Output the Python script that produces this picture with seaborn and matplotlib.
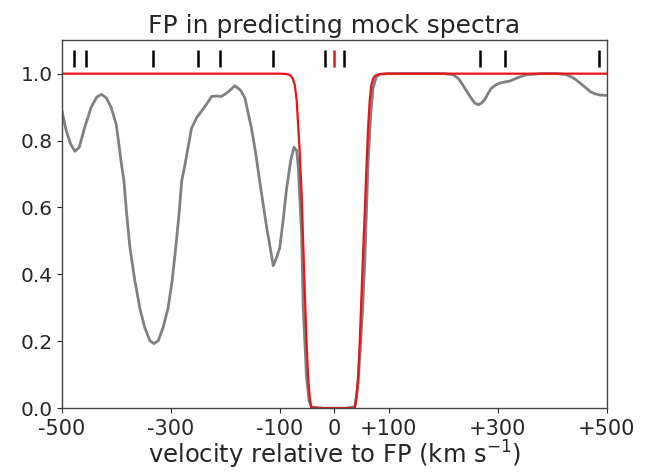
import matplotlib
matplotlib.use("Agg")
import matplotlib.pyplot as plt
import seaborn as sns
import pandas as pd

spec_v = [-500, -492, -484, -476, -468, -458, -446, -436, -427, -418, -409, -400, -390.5,
          -386, -381, -375, -366, -357, -348, -338.5, -331, -323, -314, -305, -297.6, -291,
          -285, -280, -274, -262, -252, -244, -234, -225, -216, -207, -195, -182.6, -172,
          -164, -152, -144, -137, -124, -112, -106, -100, -94, -88, -80, -74, -69, -66, -60,
          -57, -51, -46, -42, -20, 0, 20, 37.6, 43, 47, 52, 56, 62, 67, 71, 77, 83.5, 100,
          150, 200, 218, 228, 236, 244, 252, 258, 264, 270, 276, 282, 288, 296, 304, 322,
          340, 353, 380, 410, 426, 436, 444, 454, 463, 470, 478, 488, 500]
spec_f = [0.89, 0.83, 0.79, 0.768, 0.78, 0.84, 0.90, 0.93, 0.938, 0.927, 0.897, 0.847, 0.728,
          0.679, 0.579, 0.48, 0.381, 0.30, 0.242, 0.202, 0.193, 0.202, 0.242, 0.30, 0.381, 0.48,
          0.579, 0.679, 0.728, 0.837, 0.87, 0.887, 0.91, 0.932, 0.933, 0.932, 0.945, 0.964, 0.95,
          0.927, 0.837, 0.76, 0.679, 0.54, 0.426, 0.45, 0.48, 0.56, 0.65, 0.74, 0.78, 0.77, 0.72,
          0.52, 0.30, 0.093, 0.02, 0.004, 0.0, 0.0, 0.0, 0.004, 0.06, 0.16, 0.30, 0.44, 0.738,
          0.88, 0.956, 0.99, 0.998, 1.0, 1.0, 1.0, 0.997, 0.985, 0.966, 0.945, 0.925, 0.912,
          0.907, 0.912, 0.922, 0.94, 0.956, 0.966, 0.972, 0.978, 0.99, 0.997, 1.0, 1.0, 0.997,
          0.99, 0.981, 0.968, 0.956, 0.946, 0.94, 0.936, 0.935]

model_v = [-500, -100, -88, -81.6, -76, -72.5, -69, -66, -63, -60, -57, -54, -51, -48, -45, -42,
           0, 37.6, 40.5, 43.7, 47, 50, 53, 56, 59, 62, 65, 68, 72, 77, 85, 100, 500]
model_f = [1.0, 1.0, 0.999, 0.996, 0.985, 0.966, 0.92, 0.837, 0.75, 0.639, 0.49, 0.341, 0.20, 0.093, 0.03, 0.0,
           0.0, 0.0, 0.03, 0.093, 0.21, 0.341, 0.47, 0.59, 0.72, 0.837, 0.92, 0.966, 0.988, 0.996, 0.999, 1.0, 1.0]

# Component positions marked at the top
comp_v = [-477, -455, -332, -250, -209, -112, -17, 18, 268, 314, 485]
fp_v = [0]

xticks = [-500, -300, -100, 0, 100, 300, 500]
xticklabels = ["-500", "-300", "-100", "0", "+100", "+300", "+500"]
yticks = [0.0, 0.2, 0.4, 0.6, 0.8, 1.0]

sns.set_style("ticks")
plt.rcParams['font.family'] = ['DejaVu Sans']

fig = plt.figure(figsize=(6.51, 4.73), dpi=100)
ax = fig.add_axes([0.095, 0.137, 0.837, 0.778])

spec = pd.DataFrame({"v": spec_v, "f": spec_f})
model = pd.DataFrame({"v": model_v, "f": model_f})

sns.lineplot(data=spec, x="v", y="f", ax=ax, color="#808080", linewidth=2.0, sort=False)
sns.lineplot(data=model, x="v", y="f", ax=ax, color="#e8141c", linewidth=1.6, sort=False)

ax.vlines(comp_v, 1.02, 1.07, colors="black", linewidth=1.8)
ax.vlines(fp_v, 1.02, 1.07, colors="#e8141c", linewidth=1.8)

ax.set_xlim(-500, 500)
ax.set_ylim(0, 1.1)
ax.set_xticks(xticks)
ax.set_xticklabels(xticklabels)
ax.set_yticks(yticks)
ax.tick_params(axis="x", labelsize=15, length=3.5, pad=4)
ax.tick_params(axis="y", labelsize=14.5, length=3.5, pad=3)
ax.set_xlabel("velocity relative to FP (km s$^{-1}$)", fontsize=17.5, labelpad=0)
ax.set_ylabel("")
ax.set_title("FP in predicting mock spectra", fontsize=18, pad=5)
for s in ax.spines.values():
    s.set_color("#444444")
    s.set_linewidth(1.0)

fig.savefig("out.png", dpi=100)
